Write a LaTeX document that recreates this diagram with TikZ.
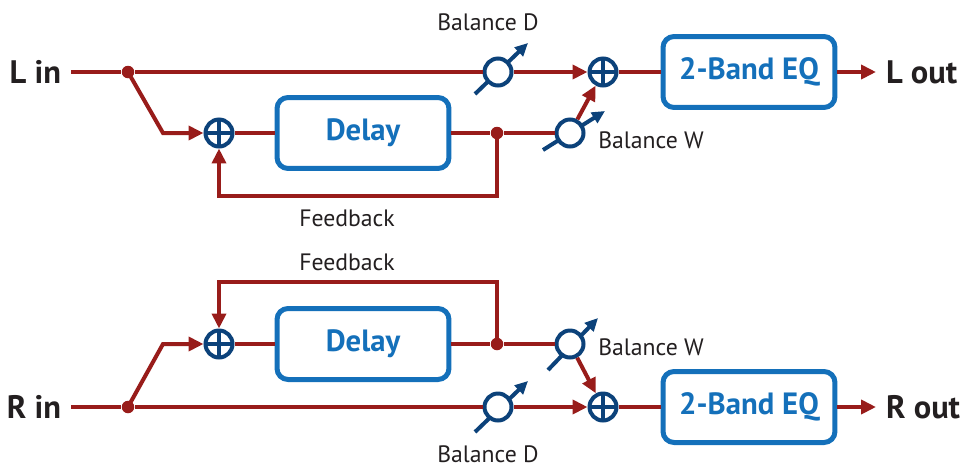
\documentclass[tikz,border=0pt]{standalone}
\usepackage{fontspec}
\setmainfont{PT Sans}
\usetikzlibrary{arrows.meta,positioning,backgrounds}
\definecolor{wire}{RGB}{152,28,26}
\definecolor{boxblue}{RGB}{20,112,186}
\definecolor{knobblue}{RGB}{12,66,122}
\definecolor{ink}{RGB}{35,31,32}
\tikzset{
  wireline/.style={draw=wire, line width=0.08cm},
  flow/.style={wireline, -{Triangle[length=0.3cm,width=0.28cm]}},
  block/.style={draw=boxblue, line width=0.1cm, rounded corners=0.22cm, text=boxblue,
    font=\bfseries\fontsize{17.5}{20}\selectfont, minimum width=3.44cm, minimum height=1.42cm},
  summer/.style={circle, draw=knobblue, line width=0.08cm, fill=white, minimum size=0.54cm, inner sep=0pt,
    path picture={\draw[knobblue, line width=0.08cm]
      (path picture bounding box.north) -- (path picture bounding box.south)
      (path picture bounding box.west) -- (path picture bounding box.east);}},
  knob/.style={circle, draw=knobblue, line width=0.08cm, fill=white, minimum size=0.54cm, inner sep=0pt},
  knobarrow/.style={draw=knobblue, line width=0.08cm, -{Triangle[length=0.26cm,width=0.24cm]}},
  junction/.style={circle, fill=wire, minimum size=0.25cm, inner sep=0pt},
  io/.style={text=ink, font=\bfseries\fontsize{18.5}{22}\selectfont, inner sep=0pt, outer xsep=0.2cm},
  caption/.style={text=ink, font=\fontsize{13.5}{16}\selectfont, inner sep=0pt}
}
\begin{document}
\begin{tikzpicture}[x=0.02cm, y=-0.02cm]
  \useasboundingbox (0,0) rectangle (963,467);

  % left channel
  \node[io, anchor=east] (lin) at (71,72) {L in};
  \node[junction] (jL) at (128,72) {};
  \node[knob] (bdL) at (498,72) {};
  \node[summer] (mixL) at (603,72) {};
  \node[block] (eqL) at (749,72) {2-Band EQ};
  \node[io, anchor=west] (lout) at (876,72) {L out};
  \coordinate (kL) at (163,133);
  \node[summer] (fbsumL) at (219,133) {};
  \node[block] (delL) at (363,133) {Delay};
  \node[junction] (tapL) at (497,133) {};
  \node[knob] (bwL) at (570,133) {};
  \node[caption] (bdLlab) at (488,22) {Balance D};
  \node[caption, anchor=west] (bwLlab) at (598,140) {Balance W};
  \node[caption] (fbLlab) at (347,218) {Feedback};

  \draw[wireline] (lin) -- (jL);
  \draw[wireline] (jL) -- (bdL);
  \draw[flow] (bdL) -- (mixL);
  \draw[wireline] (mixL) -- (eqL);
  \draw[flow] (eqL) -- (lout);
  \draw[flow] (jL.center) -- (kL) -- (fbsumL);
  \draw[wireline] (fbsumL) -- (delL);
  \draw[wireline] (delL) -- (tapL) -- (bwL);
  \draw[flow] (tapL.center) -- ++(0,63) -| (fbsumL);
  \draw[flow] (bwL) -- (mixL);

  % right channel
  \node[io, anchor=east] (rin) at (71,407) {R in};
  \node[junction] (jR) at (128,407) {};
  \node[knob] (bdR) at (498,407) {};
  \node[summer] (mixR) at (603,407) {};
  \node[block] (eqR) at (749,407) {2-Band EQ};
  \node[io, anchor=west] (rout) at (876,407) {R out};
  \coordinate (kR) at (163,344);
  \node[summer] (fbsumR) at (219,344) {};
  \node[block] (delR) at (363,344) {Delay};
  \node[junction] (tapR) at (497,344) {};
  \node[knob] (bwR) at (570,344) {};
  \node[caption] (bdRlab) at (488,454) {Balance D};
  \node[caption, anchor=west] (bwRlab) at (598,347) {Balance W};
  \node[caption] (fbRlab) at (347,262) {Feedback};

  \draw[wireline] (rin) -- (jR);
  \draw[wireline] (jR) -- (bdR);
  \draw[flow] (bdR) -- (mixR);
  \draw[wireline] (mixR) -- (eqR);
  \draw[flow] (eqR) -- (rout);
  \draw[flow] (jR.center) -- (kR) -- (fbsumR);
  \draw[wireline] (fbsumR) -- (delR);
  \draw[wireline] (delR) -- (tapR) -- (bwR);
  \draw[flow] (tapR.center) -- ++(0,-62) -| (fbsumR);
  \draw[flow] (bwR) -- (mixR);

  % knob arrows behind the circles
  \begin{scope}[on background layer]
    \draw[knobarrow] ([shift={(-23,22)}]bdL.center) -- ([shift={(30,-29)}]bdL.center);
    \draw[knobarrow] ([shift={(-27,17)}]bwL.center) -- ([shift={(35,-22)}]bwL.center);
    \draw[knobarrow] ([shift={(-23,25)}]bdR.center) -- ([shift={(30,-26)}]bdR.center);
    \draw[knobarrow] ([shift={(-22,26)}]bwR.center) -- ([shift={(28,-26)}]bwR.center);
  \end{scope}
\end{tikzpicture}
\end{document}
